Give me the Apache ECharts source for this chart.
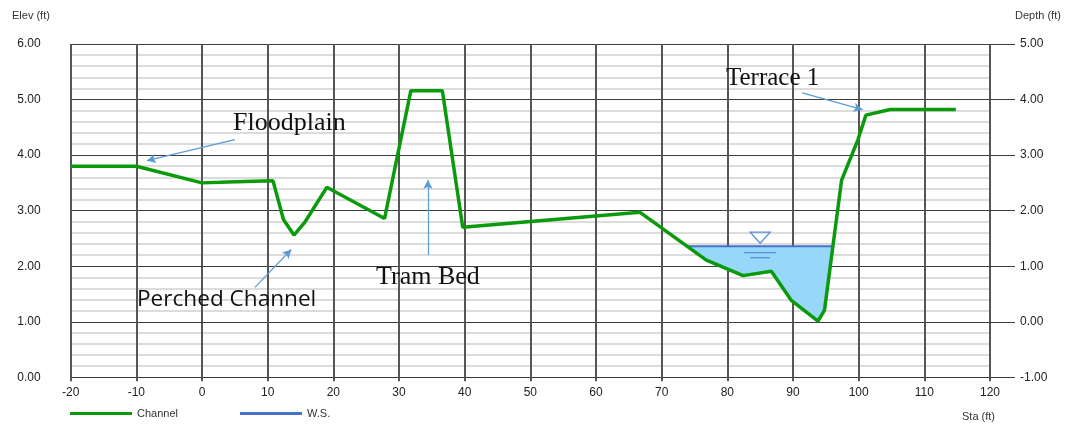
<!DOCTYPE html>
<html>
<head>
<meta charset="utf-8">
<script src="https://cdn.jsdelivr.net/npm/echarts@6/dist/echarts.min.js"></script>
<style>
  html, body { margin: 0; padding: 0; background: #fff; }
  #main { width: 1072px; height: 429px; }
</style>
</head>
<body>
<div id="main"></div>
<script>
// station / elevation of the channel cross section
var channelSta = [-20, -10, 0, 2.7, 8, 10.8, 12.4, 14, 15.7, 19, 27.8, 31.8, 36.6, 39.7, 66.7, 76.8, 82.4, 86.7, 89.7, 93.8, 94.8, 97.4, 99.9, 101.1, 104.8, 114.8];
var channelElev = [3.80, 3.80, 3.50, 3.51, 3.53, 3.54, 2.84, 2.56, 2.80, 3.42, 2.86, 5.16, 5.16, 2.70, 2.97, 2.11, 1.83, 1.91, 1.39, 1.01, 1.21, 3.55, 4.28, 4.72, 4.82, 4.82];
var wsElev = 2.36;
var xTicks = [-20, -10, 0, 10, 20, 30, 40, 50, 60, 70, 80, 90, 100, 110, 120];
var elevTicks = [0, 1, 2, 3, 4, 5, 6];
var depthTicks = [-1, 0, 1, 2, 3, 4, 5];

// callouts: text + arrow (from, to) in sta/elev units
var notes = [
  { text: 'Floodplain', font: '26px Liberation Serif', x: 233, y: 110, from: [5.0, 4.28], to: [-8.4, 3.90] },
  { text: 'Tram Bed', font: '26px Liberation Serif', x: 376, y: 264, from: [34.4, 2.20], to: [34.4, 3.55] },
  { text: 'Perched Channel', font: '22.6px Open Sans', x: 137, y: 288, from: [8.05, 1.62], to: [13.6, 2.30] },
  { text: 'Terrace 1', font: '25px Liberation Serif', x: 726, y: 66, from: [91.4, 5.12], to: [100.6, 4.82] }
];

var chart = echarts.init(document.getElementById('main'));

// find where the channel crosses the water surface and build the wetted polygon
function waterPolygon() {
  var pts = [], inside = false, left = null, right = null;
  for (var i = 0; i < channelSta.length - 1; i++) {
    var x1 = channelSta[i], y1 = channelElev[i], x2 = channelSta[i + 1], y2 = channelElev[i + 1];
    if (y1 >= wsElev && y2 < wsElev && left === null && x1 > 60) {
      left = x1 + (y1 - wsElev) / (y1 - y2) * (x2 - x1);
      pts.push([left, wsElev]);
      inside = true;
    }
    if (inside && y2 < wsElev) pts.push([x2, y2]);
    if (inside && y1 < wsElev && y2 >= wsElev) {
      right = x1 + (wsElev - y1) / (y2 - y1) * (x2 - x1);
      pts.push([right, wsElev]);
      break;
    }
  }
  return { pts: pts, left: left, right: right };
}
var water = waterPolygon();

var channelData = channelSta.map(function (s, i) { return [s, channelElev[i]]; });
var wsData = [[water.left, wsElev], [water.right, wsElev]];

var gridCol = '#3c3c3c';
var lblStyle = { color: '#222', fontSize: 12, fontFamily: 'Liberation Sans' };

var option = {
  animation: false,
  grid: { left: 70.7, right: 82, top: 44, bottom: 51.7 },
  legend: {
    left: 65, top: 403,
    icon: 'rect', itemWidth: 62, itemHeight: 3, itemGap: 62,
    textStyle: { color: '#333', fontSize: 11, fontFamily: 'Liberation Sans' },
    data: ['Channel', 'W.S.']
  },
  xAxis: {
    type: 'value', min: -20, max: 120, interval: 10,
    axisLine: { show: false },
    axisTick: { show: true, length: 4, lineStyle: { color: '#555', width: 2 } },
    axisLabel: { margin: 9, ...lblStyle, formatter: function (v) { return xTicks.indexOf(v) >= 0 ? v : ''; } },
    splitLine: { show: true, lineStyle: { color: '#555', width: 2 } }
  },
  yAxis: [{
    type: 'value', min: 0, max: 6, interval: 1, position: 'left',
    axisLine: { show: false },
    axisTick: { show: true, length: 25, lineStyle: { color: gridCol } },
    axisLabel: { margin: 30, ...lblStyle, formatter: function (v) { return elevTicks.indexOf(v) >= 0 ? v.toFixed(2) : ''; } },
    splitLine: { show: true, lineStyle: { color: gridCol, width: 1 } },
    minorTick: { show: false, splitNumber: 5 },
    minorSplitLine: { show: true, lineStyle: { color: '#dcdcdc', width: 2 } }
  }, {
    type: 'value', min: -1, max: 5, interval: 1, position: 'right',
    axisLine: { show: false },
    axisTick: { show: true, length: 25, lineStyle: { color: gridCol } },
    axisLabel: { margin: 30, ...lblStyle, formatter: function (v) { return depthTicks.indexOf(v) >= 0 ? v.toFixed(2) : ''; } },
    splitLine: { show: false }
  }],
  series: [{
    type: 'custom', name: 'fill', silent: true, z: 1,
    data: [0],
    renderItem: function (params, api) {
      return {
        type: 'polygon',
        shape: { points: water.pts.map(function (p) { return api.coord(p); }) },
        style: { fill: '#97d8fa' }
      };
    }
  }, {
    type: 'line', name: 'W.S.', data: wsData, symbol: 'none', z: 3,
    color: '#4472c4', lineStyle: { color: '#4472c4', width: 2 }
  }, {
    type: 'line', name: 'Channel', data: channelData, symbol: 'none', z: 4,
    color: '#0b9a0b', lineStyle: { color: '#0b9a0b', width: 3.5 },
    markLine: {
      silent: true, symbol: ['none', 'arrow'], symbolSize: [7, 9],
      label: { show: false },
      lineStyle: { color: '#5b9bd5', width: 1.2, type: 'solid' },
      data: notes.map(function (n) { return [{ coord: n.from }, { coord: n.to }]; })
    }
  }]
};
chart.setOption(option);

// texts and the water surface symbol
var g = [
  { type: 'text', left: 12, top: 10, style: { text: 'Elev (ft)', fill: '#333', font: '11px Liberation Sans' } },
  { type: 'text', left: 1015, top: 10, style: { text: 'Depth (ft)', fill: '#333', font: '11px Liberation Sans' } },
  { type: 'text', left: 962, top: 411, style: { text: 'Sta (ft)', fill: '#333', font: '11px Liberation Sans' } }
];
notes.forEach(function (n) {
  g.push({ type: 'text', left: n.x, top: n.y, z: 10, style: { text: n.text, fill: '#111', font: n.font } });
});
var c = chart.convertToPixel({ xAxisIndex: 0, yAxisIndex: 0 }, [85, wsElev]);
var sym = { stroke: '#5b8fd8', lineWidth: 1.3, fill: 'none' };
g.push({ type: 'polygon', z: 10, shape: { points: [[c[0] - 10, c[1] - 14], [c[0] + 10, c[1] - 14], [c[0], c[1] - 3]] }, style: sym });
g.push({ type: 'line', z: 10, shape: { x1: c[0] - 16, y1: c[1] + 6.5, x2: c[0] + 16, y2: c[1] + 6.5 }, style: { stroke: '#5b8fd8', lineWidth: 1.3 } });
g.push({ type: 'line', z: 10, shape: { x1: c[0] - 10, y1: c[1] + 11.5, x2: c[0] + 10, y2: c[1] + 11.5 }, style: { stroke: '#5b8fd8', lineWidth: 1.3 } });
chart.setOption({ graphic: g });
</script>
</body>
</html>
